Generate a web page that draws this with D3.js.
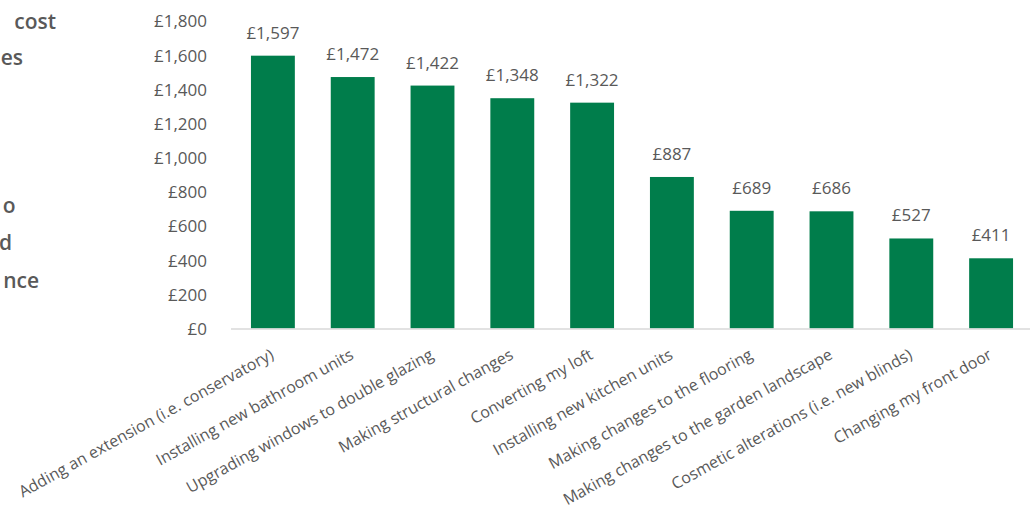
<!DOCTYPE html>
<html>
<head>
<meta charset="utf-8">
<script src="https://cdn.jsdelivr.net/npm/d3@7"></script>
<style>
  html, body { margin: 0; padding: 0; background: #fff; }
  svg { display: block; }
  text { font-family: "Century Gothic", "Open Sans", "Noto Sans", sans-serif; }
</style>
</head>
<body>
<svg id="chart" width="1030" height="515"></svg>
<script>
const categories = [
  "Adding an extension (i.e. conservatory)",
  "Installing new bathroom units",
  "Upgrading windows to double glazing",
  "Making structural changes",
  "Converting my loft",
  "Installing new kitchen units",
  "Making changes to the flooring",
  "Making changes to the garden landscape",
  "Cosmetic alterations (i.e. new blinds)",
  "Changing my front door"
];
const values = [1597, 1472, 1422, 1348, 1322, 887, 689, 686, 527, 411];
const yTicks = [0, 200, 400, 600, 800, 1000, 1200, 1400, 1600, 1800];
const sideText = ["cost", "es", "o", "d", "nce"];

const svg = d3.select("#chart");
const grey = "#595959";
const green = "#007D4B";

const x = d3.scaleBand().domain(categories).range([233, 1031])
  .paddingInner(0.45).paddingOuter(0.225);
const y = d3.scaleLinear().domain([0, 1800]).range([328.5, 21]);

// side title fragments (cut off by left edge in the original)
const sideX = [56, 23, 15.5, 12, 39];
const sideY = [29, 65, 213, 250, 288];
svg.append("g").selectAll("text").data(sideText).join("text")
  .attr("x", (d, i) => sideX[i]).attr("y", (d, i) => sideY[i])
  .attr("text-anchor", "end")
  .attr("font-size", 21).attr("font-weight", 600)
  .attr("fill", grey).text(d => d);

// y axis labels
const yAxis = d3.axisLeft(y).tickValues(yTicks)
  .tickFormat(d => "£" + d3.format(",")(d)).tickSize(0).tickPadding(0);
const yg = svg.append("g").attr("transform", "translate(207,0)").call(yAxis);
yg.select(".domain").remove();
yg.selectAll("text").attr("font-size", 17).attr("fill", grey)
  .attr("font-family", "'Open Sans', sans-serif").attr("dy", "0.35em");

// bars
svg.append("g").selectAll("rect").data(values).join("rect")
  .attr("x", (d, i) => x(categories[i]))
  .attr("width", x.bandwidth())
  .attr("y", d => y(d))
  .attr("height", d => y(0) - y(d))
  .attr("fill", green);

// baseline
svg.append("line").attr("x1", 231).attr("x2", 1030)
  .attr("y1", y(0) + 0.5).attr("y2", y(0) + 0.5)
  .attr("stroke", "#d9d9d9").attr("stroke-width", 1.5);

// value labels
svg.append("g").selectAll("text").data(values).join("text")
  .attr("x", (d, i) => x(categories[i]) + x.bandwidth() / 2)
  .attr("y", d => y(d) - 17)
  .attr("text-anchor", "middle")
  .attr("font-size", 17).attr("fill", grey)
  .text(d => "£" + d3.format(",")(d));

// category labels
svg.append("g").selectAll("text").data(categories).join("text")
  .attr("transform", d => `translate(${x(d) + x.bandwidth() / 2 + 2},358) rotate(-29)`)
  .attr("text-anchor", "end")
  .attr("font-size", 16).attr("fill", grey)
  .text(d => d);
</script>
</body>
</html>
